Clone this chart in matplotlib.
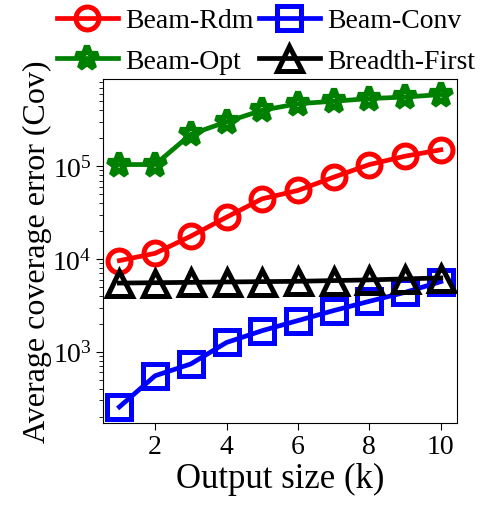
import numpy as np
import matplotlib
matplotlib.use("Agg")
from matplotlib import pyplot as plt

plt.rcParams['font.family'] = 'Liberation Serif'
plt.rcParams['mathtext.fontset'] = 'custom'
plt.rcParams['mathtext.rm'] = 'Liberation Serif'
plt.rcParams['mathtext.it'] = 'Liberation Serif:italic'

k = [1, 2, 3, 4, 5, 6, 7, 8, 9, 10]
beam_rdm = [9600, 11500, 17600, 28200, 44500, 54700, 76000, 104000, 128000, 150000]
beam_conv = [255, 552, 740, 1260, 1690, 2170, 2780, 3500, 4370, 5700]
beam_opt = [104000, 104000, 220000, 300000, 400000, 470000, 500000, 534000, 555000, 590000]
breadth_first = [5500, 5550, 5600, 5650, 5700, 5750, 5850, 5950, 6100, 6250]

fig = plt.figure(figsize=(4.85, 5.06), dpi=100)
ax = fig.add_axes([0.213, 0.163, 0.729, 0.679])

style = dict(linewidth=3.4, markeredgewidth=3.6, markerfacecolor='none')
l_rdm, = ax.plot(k, beam_rdm, color='red', marker='o', markersize=16.5,
                 label='Beam-Rdm', **style)
l_conv, = ax.plot(k, beam_conv, color='blue', marker='s', markersize=17,
                  label='Beam-Conv', **style)
l_opt, = ax.plot(k, beam_opt, color='green', marker='*', label='Beam-Opt',
                 linewidth=3.4, markersize=17, markeredgewidth=4.5, markerfacecolor='none')
l_bf, = ax.plot(k, breadth_first, color='black', marker='^', markersize=18,
                label='Breadth-First', **style)

ax.set_yscale('log')
ax.set_xticks([2, 4, 6, 8, 10])
ax.tick_params(axis='both', which='major', labelsize=20, direction='out', length=5)
ax.tick_params(axis='y', which='minor', direction='out', length=3)
ax.set_xlabel('Output size (k)', fontsize=25, labelpad=2)
ax.set_ylabel('Average coverage error (Cov)', fontsize=23, labelpad=0)

# ncol=2 fills column-wise, so order handles to get Rdm/Conv on the first row
handles = [l_rdm, l_opt, l_conv, l_bf]
fig.legend(handles, [h.get_label() for h in handles], loc='upper center',
           bbox_to_anchor=(0.548, 1.01), ncol=2, frameon=False,
           fontsize=20, handlelength=2.2, handletextpad=0.25, columnspacing=0.2,
           labelspacing=0.55, borderaxespad=0.1)

fig.savefig('out.png', dpi=100)
